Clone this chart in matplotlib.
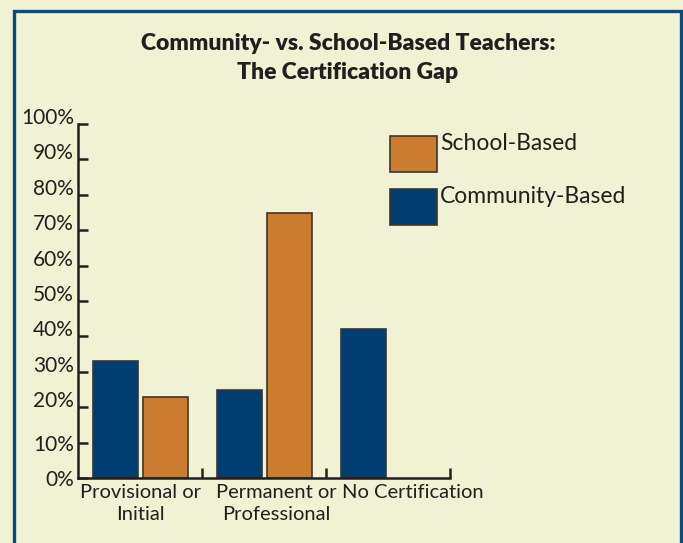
import numpy as np
import matplotlib
matplotlib.use('Agg')
import matplotlib.pyplot as plt
from matplotlib.patches import Rectangle

# data
categories = ['Provisional or\nInitial', 'Permanent or\nProfessional', 'No Certification']
label_pos = [0.5, 1.6, 2.7]
community = [33, 25, 42]
school = [23, 75, np.nan]
y_ticks = [0, 10, 20, 30, 40, 50, 60, 70, 80, 90, 100]
y_labels = [f'{v}%' for v in y_ticks]
title_lines = ['Community- vs. School-Based Teachers:', 'The Certification Gap']
series_names = ['School-Based', 'Community-Based']

navy = '#003D70'
orange = '#CB7C2F'
edge = '#3A382F'
bg = '#F1F1D3'
ink = '#231F20'

plt.rcParams['font.family'] = ['Lato', 'DejaVu Sans']

fig = plt.figure(figsize=(6.83, 5.43), dpi=100, facecolor=bg)
# frame around the panel
fig.add_artist(Rectangle((14 / 683, -0.05), 667 / 683, 1.05 - 11 / 543, transform=fig.transFigure,
                         fill=False, edgecolor='#0B4A80', linewidth=2.4))

fig.text(0.5095, 1 - 50 / 543, title_lines[0], ha='center', va='baseline',
         fontsize=16.5, fontweight='heavy', color=ink)
fig.text(0.5095, 1 - 79 / 543, title_lines[1], ha='center', va='baseline',
         fontsize=16.5, fontweight='heavy', color=ink)

ax = fig.add_axes([78 / 683, 65 / 543, 372 / 683, 354 / 543])
ax.set_facecolor('none')

x = np.arange(len(categories))
w = 0.363
ax.bar(x + 0.12, community, width=w, align='edge', color=navy, edgecolor=edge, linewidth=1.2)
ok = ~np.isnan(np.array(school, dtype=float))
ax.bar((x + 0.524)[ok], np.array(school)[ok], width=w, align='edge', color=orange, edgecolor=edge,
       linewidth=1.2)

ax.set_xlim(0, 3)
ax.set_ylim(0, 100)
ax.set_yticks(y_ticks)
ax.set_yticklabels(y_labels, fontsize=15, color=ink)
# most of the labels in the original sit on the tick rather than centred on it
for v, lbl in zip(y_ticks, ax.get_yticklabels()):
    if v >= 20:
        lbl.set_verticalalignment('baseline')
ax.set_xticks(label_pos)
ax.set_xticklabels(categories, fontsize=14.5, color=ink, linespacing=1.4)
ax.set_xticks([1, 2, 3], minor=True)
ax.tick_params(axis='x', which='major', length=0, pad=4)
ax.tick_params(axis='x', which='minor', direction='in', length=7, width=1.8, color=ink)
ax.tick_params(axis='y', direction='in', length=7, width=1.8, color=ink, pad=3)

for s in ['top', 'right']:
    ax.spines[s].set_visible(False)
for s in ['left', 'bottom']:
    ax.spines[s].set_linewidth(1.8)
    ax.spines[s].set_color(ink)

# legend: swatches with the label hung from the top edge, as in the original
leg_x, leg_w, leg_h = 312 / 372, 47 / 372, 36 / 354
leg_tops = [1 - 12 / 354, 1 - 65 / 354]
for name, col, top in zip(series_names, [orange, navy], leg_tops):
    ax.add_patch(Rectangle((leg_x, top - leg_h), leg_w, leg_h, transform=ax.transAxes,
                           facecolor=col, edgecolor=edge, linewidth=1.2, clip_on=False))
    ax.text(leg_x + leg_w + 3 / 372, top + 3 / 354, name, transform=ax.transAxes,
            ha='left', va='top', fontsize=16.5, color=ink)

fig.savefig('out.png', dpi=100, facecolor=bg)
